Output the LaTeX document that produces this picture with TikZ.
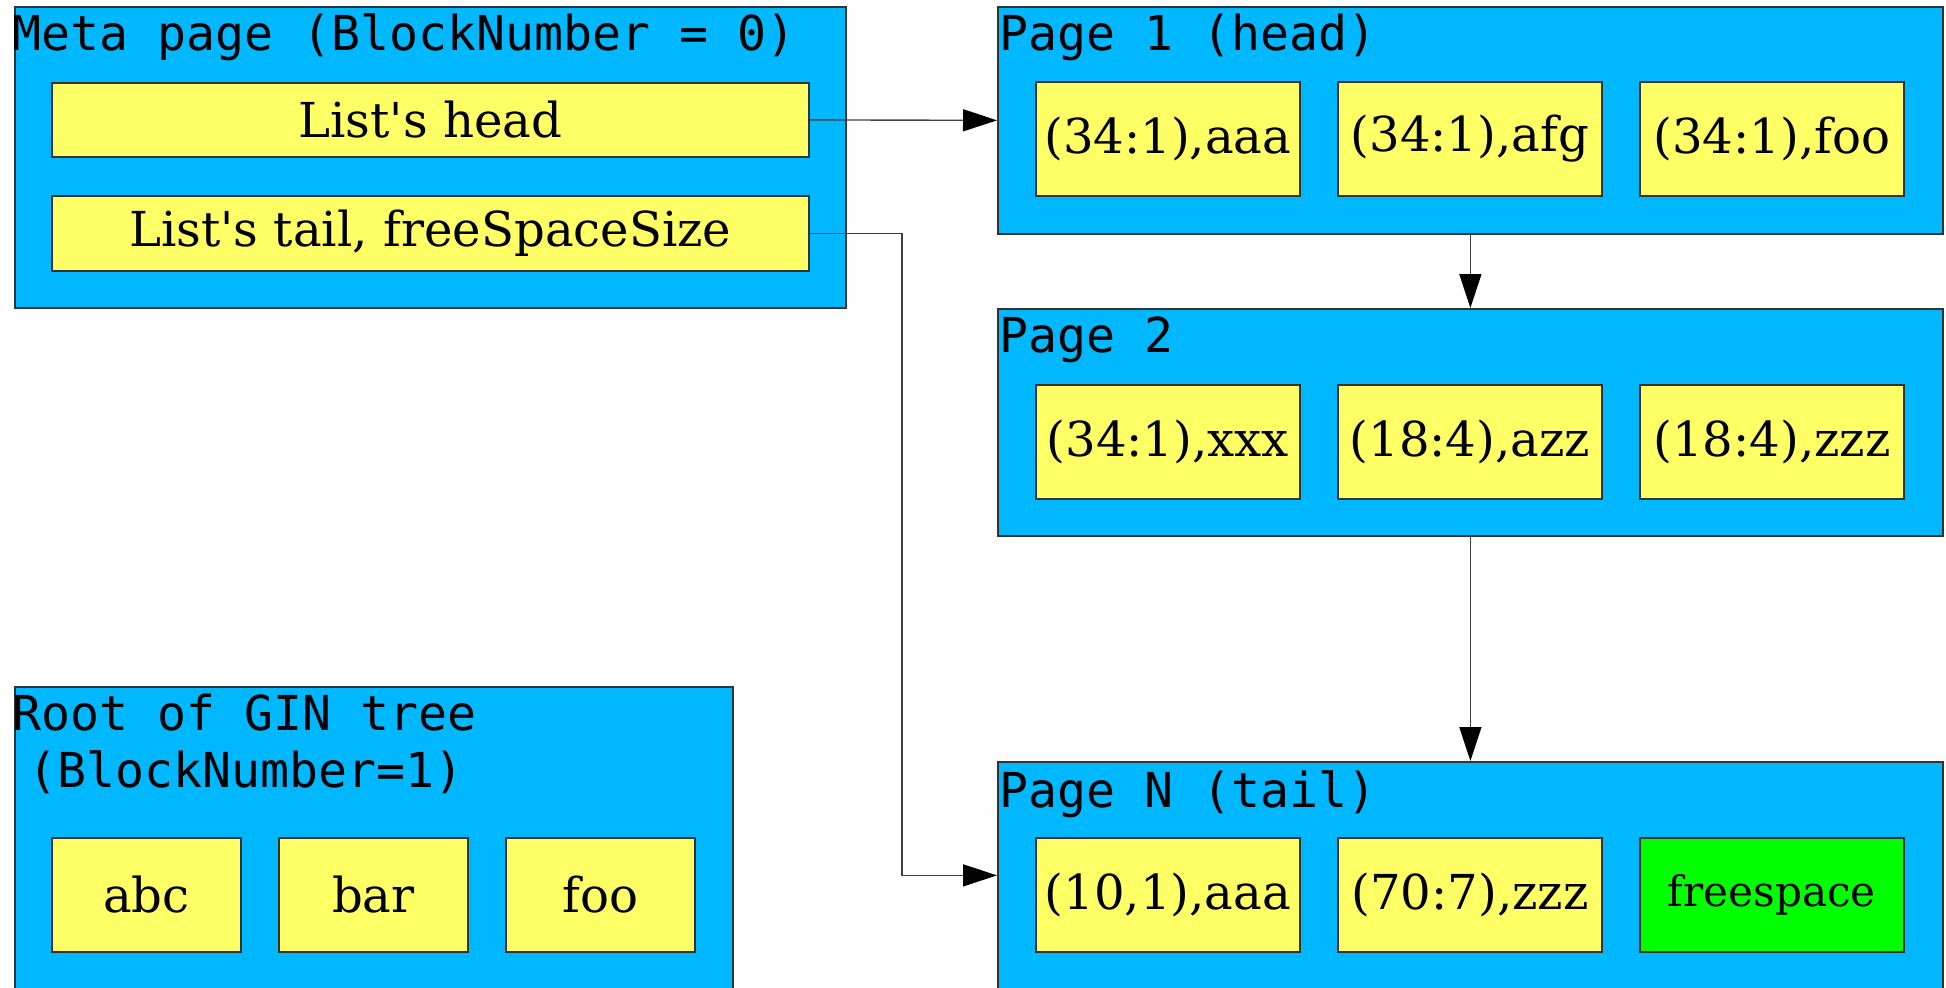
\documentclass[tikz,border=0pt]{standalone}
\usepackage{fontspec}
\setmainfont{DejaVu Serif}
\setmonofont{DejaVu Sans Mono}
\usetikzlibrary{arrows.meta}
\definecolor{pageblue}{RGB}{0,184,255}
\definecolor{cellyellow}{RGB}{255,255,102}
\definecolor{freegreen}{RGB}{0,255,0}
\tikzset{
  pagebox/.style={draw=black!80, fill=pageblue, line width=0.5pt, anchor=north west,
    inner sep=0pt, minimum width=9.45cm, minimum height=2.27cm},
  cell/.style={draw=black!80, fill=cellyellow, line width=0.5pt, anchor=north west,
    inner sep=0pt, minimum width=2.64cm, minimum height=1.14cm,
    font=\fontsize{13.7}{16}\selectfont},
  pagetitle/.style={anchor=base west, inner sep=0pt, font=\ttfamily\fontsize{13.7}{16}\selectfont},
  link/.style={draw=black!75, line width=0.4pt, -{Triangle[length=3.4mm,width=2.2mm,color=black]}},
}

\begin{document}
\begin{tikzpicture}
    \useasboundingbox (0,0) rectangle (19.46,-9.87);
    \clip (0,0) rectangle (19.46,-9.87);
    % meta page
    \node[pagebox, minimum width=8.31cm, minimum height=3.01cm] (meta) at (0.14,-0.06) {};
    \node[pagetitle] (metattl) at (0.12,-0.50) {Meta page (BlockNumber = 0)};
    \node[cell, minimum width=7.57cm, minimum height=0.74cm] (listhead) at (0.51,-0.82) {List\textquotesingle s head};
    \node[cell, minimum width=7.57cm, minimum height=0.75cm] (listtail) at (0.51,-1.95) {List\textquotesingle s tail, freeSpaceSize};
    % root of the tree
    \node[pagebox, minimum width=7.18cm, minimum height=3.5cm] (root) at (0.14,-6.86) {};
    \node[pagetitle] (rootttl) at (0.12,-7.30) {Root of GIN tree};
    \node[pagetitle] (rootblk) at (0.28,-7.87) {(BlockNumber=1)};
    \node[cell, minimum width=1.89cm] (rabc) at (0.51,-8.37) {abc};
    \node[cell, minimum width=1.89cm] (rbar) at (2.78,-8.37) {bar};
    \node[cell, minimum width=1.89cm] (rfoo) at (5.05,-8.37) {foo};
    % page 1
    \node[pagebox] (pageone) at (9.97,-0.06) {};
    \node[pagetitle] (pageonettl) at (9.99,-0.50) {Page 1 (head)};
    \node[cell] (p1a) at (10.35,-0.81) {(34:1),aaa};
    \node[cell] (p1b) at (13.37,-0.81) {(34:1),afg};
    \node[cell] (p1c) at (16.39,-0.81) {(34:1),foo};
    % page 2
    \node[pagebox] (pagetwo) at (9.97,-3.08) {};
    \node[pagetitle] (pagetwottl) at (9.99,-3.52) {Page 2};
    \node[cell] (p2a) at (10.35,-3.84) {(34:1),xxx};
    \node[cell] (p2b) at (13.37,-3.84) {(18:4),azz};
    \node[cell] (p2c) at (16.39,-3.84) {(18:4),zzz};
    % page N
    \node[pagebox] (pagen) at (9.97,-7.61) {};
    \node[pagetitle] (pagenttl) at (9.99,-8.07) {Page N (tail)};
    \node[cell] (pna) at (10.35,-8.37) {(10,1),aaa};
    \node[cell] (pnb) at (13.37,-8.37) {(70:7),zzz};
    \node[cell, fill=freegreen, font=\fontsize{12}{14}\selectfont] (pnfree) at (16.39,-8.37) {freespace};
    % links
    \coordinate (bend) at (9.02,0);
    \draw[link] (listhead.east) -- (pageone.west);
    \draw[link] (listtail.east) -- (bend |- listtail.east) -- (bend |- pagen.west) -- (pagen.west);
    \draw[link] (pageone.south) -- (pagetwo.north);
    \draw[link] (pagetwo.south) -- (pagen.north);
\end{tikzpicture}
\end{document}
